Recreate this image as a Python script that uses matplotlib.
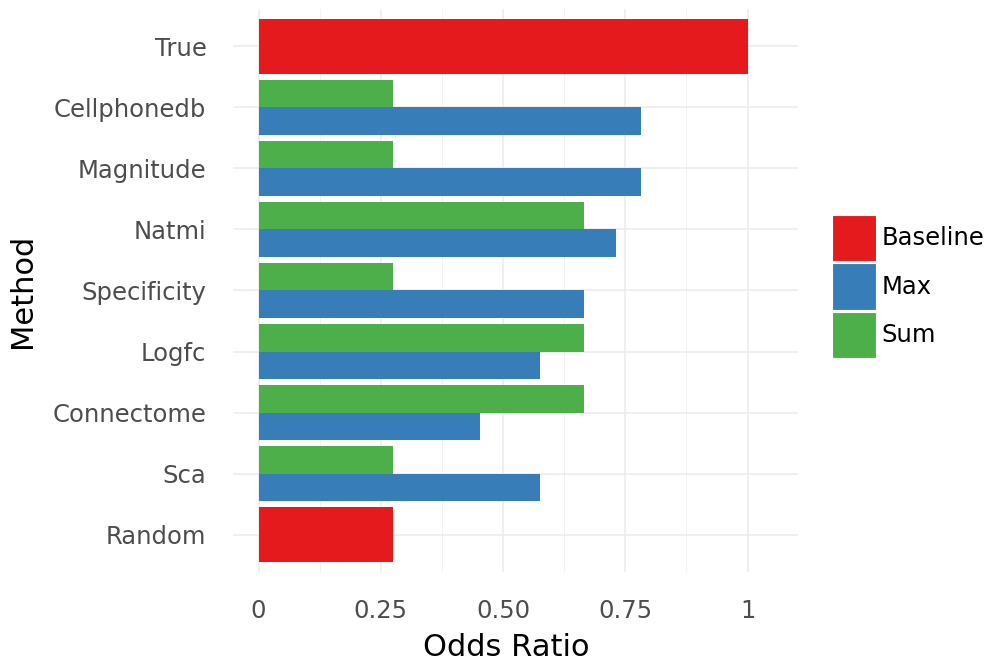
import matplotlib
matplotlib.use("Agg")
import matplotlib.pyplot as plt
import numpy as np
from matplotlib.patches import Patch

# Methods listed top to bottom
methods = ["True", "Cellphonedb", "Magnitude", "Natmi", "Specificity",
           "Logfc", "Connectome", "Sca", "Random"]

# Baseline methods (single bar)
baseline_methods = ["True", "Random"]
baseline_values = [1.0, 0.275]

# Aggregated methods (Sum and Max bars)
agg_methods = ["Cellphonedb", "Magnitude", "Natmi", "Specificity",
               "Logfc", "Connectome", "Sca"]
sum_values = [0.275, 0.275, 0.665, 0.275, 0.665, 0.665, 0.275]
max_values = [0.783, 0.783, 0.731, 0.665, 0.575, 0.452, 0.575]

x_ticks = [0, 0.25, 0.5, 0.75, 1.0]
x_tick_labels = ["0", "0.25", "0.50", "0.75", "1"]

colors = {"Baseline": "#E41A1C", "Max": "#377EB8", "Sum": "#4DAF4A"}

fig = plt.figure(figsize=(9.88, 6.63), dpi=100)
ax = fig.add_axes([0.2357, 0.1380, 0.8074 - 0.2357, 0.9858 - 0.1380])

n = len(methods)
ypos = {m: n - i for i, m in enumerate(methods)}
width = 0.9

for m, v in zip(baseline_methods, baseline_values):
    ax.barh(ypos[m], v, height=width, color=colors["Baseline"], zorder=3)
for m, s, mx in zip(agg_methods, sum_values, max_values):
    ax.barh(ypos[m] + width / 4, s, height=width / 2, color=colors["Sum"], zorder=3)
    ax.barh(ypos[m] - width / 4, mx, height=width / 2, color=colors["Max"], zorder=3)

ax.set_xlim(-0.0525, 1.1025)
ax.set_ylim(0.4, n + 0.6)
ax.set_xticks(x_ticks)
ax.set_xticklabels(x_tick_labels)
ax.set_xticks([0.125, 0.375, 0.625, 0.875], minor=True)
ax.set_yticks([ypos[m] for m in methods])
ax.set_yticklabels(methods)

ax.grid(True, which="major", color="#EBEBEB", linewidth=1.1, zorder=0)
ax.grid(True, which="minor", axis="x", color="#F2F2F2", linewidth=0.7, zorder=0)
ax.set_axisbelow(True)
for sp in ax.spines.values():
    sp.set_visible(False)
ax.tick_params(axis="both", which="both", length=0, labelsize=17.5, labelcolor="#4D4D4D")
ax.tick_params(axis="y", pad=19)
ax.tick_params(axis="x", pad=20)

ax.set_xlabel("Odds Ratio", fontsize=22, color="black")
ax.xaxis.set_label_coords(0.4835, -0.1355, transform=ax.transAxes)
ax.xaxis.label.set_va("center")
ax.set_ylabel("Method", fontsize=22, color="black", labelpad=11)

handles = [Patch(facecolor=colors[k], edgecolor="white", linewidth=0.8, label=k)
           for k in ["Baseline", "Max", "Sum"]]
fig.legend(handles=handles, loc="center left", bbox_to_anchor=(0.842, 0.568),
           frameon=False, fontsize=17.5, handlelength=1.81, handleheight=2.55,
           handletextpad=0.22, labelspacing=0.1, borderaxespad=0, borderpad=0)

fig.savefig("out.png", dpi=100, facecolor="white")
